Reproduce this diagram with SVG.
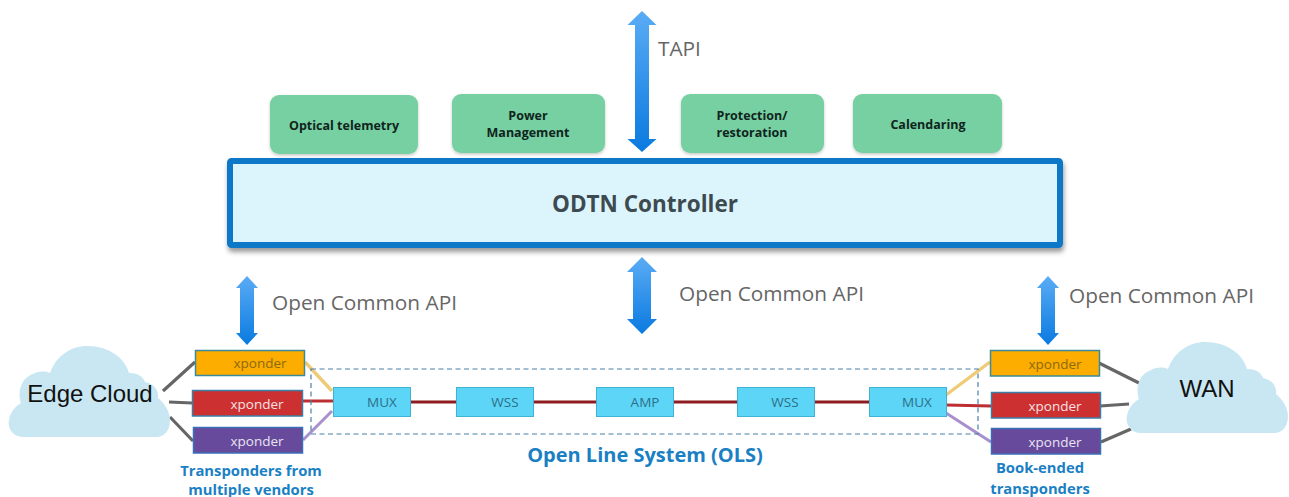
<svg xmlns="http://www.w3.org/2000/svg" width="1289" height="497" viewBox="0 0 1289 497">
<style>
text{font-family:"Open Sans","Noto Sans",sans-serif;text-anchor:middle}
.api{font-size:20.8px;fill:#666;text-anchor:start}
.app{fill:#76d0a2;filter:url(#soft)}
.appt{font-size:12.5px;font-weight:700;fill:#10241c}
.cloud{fill:#c9e7f2}
.cloudt{font-family:"Liberation Sans",Arial,sans-serif;font-size:24px;fill:#111}
.x{stroke-width:1.5}
.xt{font-size:13.5px}
.ols{fill:#5cd5f7;stroke:#3fb3d6;stroke-width:1}
.olst{font-size:13.5px;fill:#2c6f88}
.blue{font-weight:700;fill:#1a80c4;font-size:14.8px}
.gray{stroke:#666;stroke-width:3.2;fill:none}
.arrow{fill:url(#ag)}
</style>
<defs>
<linearGradient id="ag" x1="0" y1="0" x2="0" y2="1"><stop offset="0" stop-color="#5aacf5"/><stop offset="1" stop-color="#0a7ae0"/></linearGradient>
<filter id="soft" x="-10%" y="-10%" width="120%" height="125%"><feDropShadow dx="0" dy="1.5" stdDeviation="1.5" flood-color="#000" flood-opacity=".22"/></filter>
<filter id="shadow" x="-3%" y="-10%" width="106%" height="125%"><feDropShadow dx="1" dy="4" stdDeviation="2.5" flood-color="#000" flood-opacity=".4"/></filter>
<path id="cloudShape" d="M14 91C4 91-2 82 0 74C1 66 7 60 12 57C8 46 12 32 24 28C30 25 36 25 41 27C47 10 62 0 78 0C100 0 116 12 120 27C128 27 134 30 136 36C146 38 150 45 149 52C156 58 161 66 161 74C161 84 156 91 147 91Z"/>
</defs>
<g id="connectors">
<g class="gray">
<path d="M163 391L195 362M169 402L192 403M170 417L193 441M1099 363L1139 383M1100 406L1129 404M1101 442L1131 429"/>
</g>
<path d="M410 402H869" stroke="#8e1c20" stroke-width="2.8" fill="none"/>
<path d="M305 362L332 391M946 395L990 362" stroke="#efcb78" stroke-width="3.4" fill="none"/>
<path d="M302 401H333M946 405L991 406" stroke="#bd2e33" stroke-width="3.2" fill="none"/>
<path d="M303 440L332 411M946 413L991 442" stroke="#a88fce" stroke-width="3" fill="none"/>
<rect x="311" y="369" width="667" height="65" fill="none" stroke="#4a80a8" stroke-width="1.2" stroke-dasharray="5 3.5"/>
</g>
<g id="tapi-arrow"><path class="arrow" d="M642 11L656.500 25H649V139H656.500L642 152L627.500 139H635V25H627.500Z"/><text class="api" x="658" y="56">TAPI</text></g>
<g id="app-telemetry"><rect class="app" x="270" y="95" width="148" height="59" rx="9"/><text class="appt" x="344" y="130">Optical telemetry</text></g>
<g id="app-power"><rect class="app" x="452" y="94" width="153" height="59" rx="9"/><text class="appt" x="528" y="120">Power</text><text class="appt" x="528" y="137">Management</text></g>
<g id="app-protection"><rect class="app" x="681" y="94" width="143" height="59" rx="9"/><text class="appt" x="752" y="120">Protection/</text><text class="appt" x="752" y="137">restoration</text></g>
<g id="app-calendaring"><rect class="app" x="853" y="94" width="149" height="59" rx="9"/><text class="appt" x="928" y="129">Calendaring</text></g>
<g id="controller"><rect x="230" y="161" width="830" height="84" rx="1.500" fill="#dcf5fd" stroke="#0b78c8" stroke-width="6" filter="url(#shadow)"/><text x="645" y="212" font-size="22.500" font-weight="700" fill="#3d4a50">ODTN Controller</text></g>
<g id="api-left"><path class="arrow" d="M247 276L258 288H254V333H258L247 345L236 333H240V288H236Z"/><text class="api" x="272" y="310">Open Common API</text></g>
<g id="api-middle"><path class="arrow" d="M642 257L657 272H651V319H657L642 334L627 319H633V272H627Z"/><text class="api" x="679" y="301">Open Common API</text></g>
<g id="api-right"><path class="arrow" d="M1048 276L1059 288H1055V333H1059L1048 345L1037 333H1041V288H1037Z"/><text class="api" x="1069" y="303">Open Common API</text></g>
<g id="edge-cloud"><use href="#cloudShape" class="cloud" x="9" y="346"/><text class="cloudt" x="90" y="402">Edge Cloud</text></g>
<g id="wan-cloud"><use href="#cloudShape" class="cloud" x="1127" y="342"/><text class="cloudt" x="1207" y="397">WAN</text></g>
<g id="xl1"><rect class="x" x="195.500" y="350.500" width="109" height="25" fill="#fdac00" stroke="#3a8a9c"/><text class="xt" x="260" y="368" fill="#8a6a10">xponder</text></g>
<g id="xl2"><rect class="x" x="192.500" y="390.500" width="110" height="25.500" fill="#cd3031" stroke="#3a7fa6"/><text class="xt" x="257" y="409" fill="#f5e3e3">xponder</text></g>
<g id="xl3"><rect class="x" x="193.500" y="427.500" width="109" height="25.500" fill="#674a9c" stroke="#3a6fb6"/><text class="xt" x="257" y="446" fill="#e9e4f2">xponder</text></g>
<g id="xr1"><rect class="x" x="990.500" y="350.500" width="109" height="25.500" fill="#fdac00" stroke="#3a8a9c"/><text class="xt" x="1055" y="369" fill="#8a6a10">xponder</text></g>
<g id="xr2"><rect class="x" x="991.500" y="392.500" width="109" height="25.500" fill="#cd3031" stroke="#3a7fa6"/><text class="xt" x="1055" y="411" fill="#f5e3e3">xponder</text></g>
<g id="xr3"><rect class="x" x="991.500" y="428.500" width="109" height="25.500" fill="#674a9c" stroke="#3a6fb6"/><text class="xt" x="1055" y="447" fill="#e9e4f2">xponder</text></g>
<g id="mux-left"><rect class="ols" x="333.500" y="387.500" width="77" height="29"/><text class="olst" x="382" y="407">MUX</text></g>
<g id="wss-left"><rect class="ols" x="456.500" y="387.500" width="77" height="29"/><text class="olst" x="505" y="407">WSS</text></g>
<g id="amp"><rect class="ols" x="596.500" y="387.500" width="77" height="29"/><text class="olst" x="645" y="407">AMP</text></g>
<g id="wss-right"><rect class="ols" x="737.500" y="387.500" width="77" height="29"/><text class="olst" x="785" y="407">WSS</text></g>
<g id="mux-right"><rect class="ols" x="869.500" y="387.500" width="77" height="29"/><text class="olst" x="917" y="407">MUX</text></g>
<text class="blue" x="645" y="462" style="font-size:20px">Open Line System (OLS)</text>
<text class="blue" x="251" y="476">Transponders from</text>
<text class="blue" x="251" y="495">multiple vendors</text>
<text class="blue" x="1040" y="473">Book-ended</text>
<text class="blue" x="1040" y="494">transponders</text>
</svg>
